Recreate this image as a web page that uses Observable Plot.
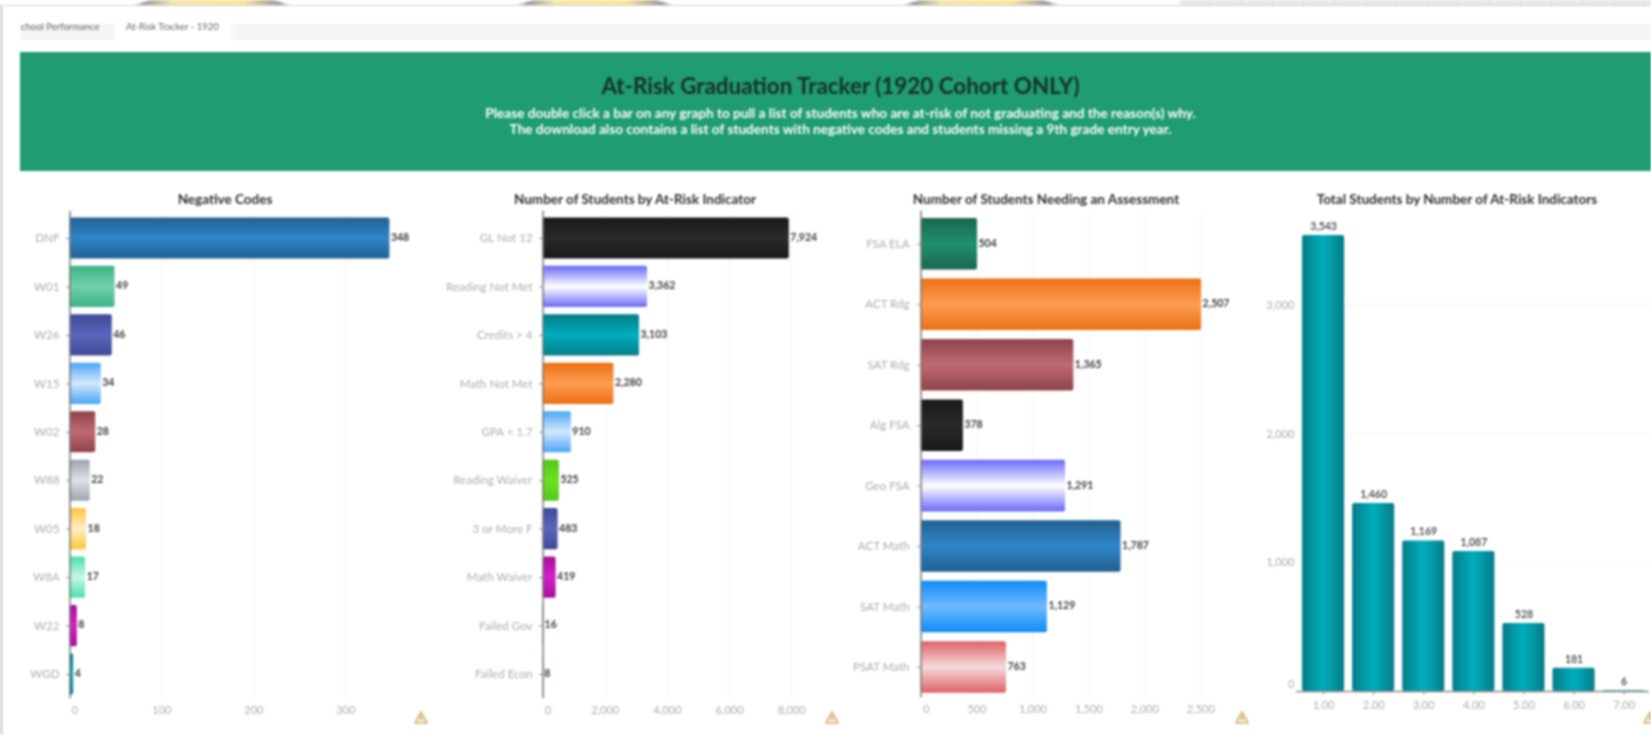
<!DOCTYPE html>
<html><head><meta charset="utf-8">
<script src="https://cdn.jsdelivr.net/npm/d3@7"></script>
<script src="https://cdn.jsdelivr.net/npm/@observablehq/plot@0.6"></script>
<style>
html,body{margin:0;padding:0;background:#fff;overflow:hidden;width:1651px;height:735px}
#page{position:relative;width:1651px;height:735px;overflow:hidden;filter:blur(0.95px);font-family:Lato,"Open Sans",sans-serif}
#page>*{position:absolute}
.deco{top:0;height:5px;width:160px;background:linear-gradient(90deg,#fff 0,#9a9aa0 8%,#f5e6a8 25%,#f9e49a 70%,#9a9aa0 92%,#fff 100%);clip-path:polygon(0 100%,12% 0,88% 0,100% 100%)}
#sheet{top:0;left:1180px;width:471px;height:5px;background:repeating-linear-gradient(90deg,#e9e9e9 0 30px,#d6d6d6 30px 31px)}
#edge{left:0;top:5px;width:1651px;height:1px;background:#d4d4d4}
#side{left:0;top:5px;width:3px;height:730px;background:linear-gradient(90deg,#c4c4c4,#eee)}
#tabbar{left:232px;top:24px;width:1419px;height:16px;background:#f4f5f7}
#tab1{left:20px;top:24px;width:95px;height:16px;background:#f4f5f7;overflow:hidden}
.tabtext{font-size:9.5px;color:#666;white-space:nowrap;top:21px;height:11px;line-height:11px}
#banner{left:20px;top:52px;width:1631px;height:119px;background:#1f9c70;text-align:center;color:#fff}
#banner div{position:absolute;left:10px;right:0}
#bt{top:19px;font-size:22.4px;font-weight:700;color:#17302a;line-height:30px}
#bs1{top:54px;font-size:13.6px;font-weight:700;line-height:15px}
#bs2{top:70px;font-size:13.6px;font-weight:700;line-height:15px}
.ptitle{top:191px;width:400px;text-align:center;font-size:13.5px;font-weight:700;color:#2e2e2e;line-height:16px}
.warn{top:710px}
svg{overflow:visible}
</style></head><body>
<div id="page">
<div class="deco" style="left:132px"></div><div class="deco" style="left:515px"></div><div class="deco" style="left:901px"></div>
<div id="sheet"></div><div id="edge"></div><div id="side"></div>
<div id="tabbar"></div><div id="tab1"></div>
<div class="tabtext" style="left:21px;width:90px;overflow:hidden">chool Performance</div>
<div class="tabtext" style="left:126px">At-Risk Tracker - 1920</div>
<div id="banner">
<div id="bt">At-Risk Graduation Tracker (1920 Cohort ONLY)</div>
<div id="bs1">Please double click a bar on any graph to pull a list of students who are at-risk of not graduating and the reason(s) why.</div>
<div id="bs2">The download also contains a list of students with negative codes and students missing a 9th grade entry year.</div>
</div>
<div class="ptitle" style="left:25px">Negative Codes</div>
<div class="ptitle" style="left:435px">Number of Students by At-Risk Indicator</div>
<div class="ptitle" style="left:846px">Number of Students Needing an Assessment</div>
<div class="ptitle" style="left:1257px">Total Students by Number of At-Risk Indicators</div>
</div>
<script>
// Data
const negativeCodes = ["DNF","W01","W26","W15","W02","W88","W05","W8A","W22","WGD"];
const negativeCounts = [348,49,46,34,28,22,18,17,8,4];
const indicatorNames = ["GL Not 12","Reading Not Met","Credits > 4","Math Not Met","GPA < 1.7","Reading Waiver","3 or More F","Math Waiver","Failed Gov","Failed Econ"];
const indicatorCounts = [7924,3362,3103,2280,910,525,483,419,16,8];
const assessmentNames = ["FSA ELA","ACT Rdg","SAT Rdg","Alg FSA","Geo FSA","ACT Math","SAT Math","PSAT Math"];
const assessmentCounts = [504,2507,1365,378,1291,1787,1129,763];
const indicatorTotals = ["1.00","2.00","3.00","4.00","5.00","6.00","7.00"];
const totalStudents = [3543,1460,1169,1087,528,181,6];
const negativeTicks = [0,100,200,300];
const indicatorTicks = [0,2000,4000,6000,8000];
const assessmentTicks = [0,500,1000,1500,2000,2500];
const totalTicks = [0,1000,2000,3000];
// Colours: [edge, centre]
const navy=["#22608f","#2f86cb"],green=["#3cb486","#71d0a8"],indigo=["#414a96","#5a66bd"],sky=["#4aa5f7","#d4e9fd"],
 wine=["#8e434b","#c06a72"],slate=["#9da4ae","#dfe2e6"],amber=["#fcc63c","#ffefc6"],mint=["#4ae0ae","#c9f7e5"],
 purple=["#a5119a","#d21fc8"],teal=["#067c88","#00aebd"],black=["#191919","#2a2a2a"],violet=["#6a6af8","#ffffff"],
 orange=["#ec7012","#fd9e55"],lime=["#52c81a","#6fe020"],forest=["#1b6650","#1f9070"],azure=["#0d8cf5","#70baff"],rose=["#dd6266","#f5dadc"];
const negativeColors=[navy,green,indigo,sky,wine,slate,amber,mint,purple,teal];
const indicatorColors=[black,violet,teal,orange,sky,lime,indigo,purple,teal,teal];
const assessmentColors=[forest,orange,wine,black,violet,navy,azure,rose];
const totalColors=indicatorTotals.map(()=>teal);

const fmt=d3.format(",");
const AXIS="#adadad", LABEL="#3c3c3c", GRID="#f4f4f4", FONT="Lato,'Open Sans',sans-serif";
const page=document.getElementById("page");

function gradients(prefix,colors,horizontal){
  return ()=>{
    const defs=d3.create("svg:defs");
    colors.forEach((c,i)=>{
      const g=defs.append("linearGradient").attr("id",prefix+i).attr("x1",0).attr("y1",0)
        .attr("x2",horizontal?1:0).attr("y2",horizontal?0:1);
      [[0,c[0]],[0.5,c[1]],[1,c[0]]].forEach(([o,col])=>g.append("stop").attr("offset",o).attr("stop-color",col));
    });
    return defs.node();
  };
}
function place(plot,left,top){plot.style.left=left+"px";plot.style.top=top+"px";plot.style.position="absolute";plot.style.background="transparent";page.appendChild(plot);}

function hbar({id,names,values,colors,ticks,max,left,width,marginLeft,marginRight,top,height,marginTop,marginBottom,inner,pad}){
  const rows=names.map((n,i)=>({n,v:values[i],i}));
  const plot=Plot.plot({
    width,height,marginLeft,marginRight,marginTop,marginBottom,
    style:{fontFamily:FONT,fontSize:"11px",background:"transparent"},
    x:{domain:[0,max],axis:null},
    y:{domain:names,paddingInner:inner,paddingOuter:inner/2,round:false,axis:null},
    marks:[
      gradients(id,colors,false),
      Plot.gridX(ticks.slice(1),{stroke:GRID,strokeOpacity:1}),
      Plot.axisY({anchor:"left",tickSize:3.5,tickPadding:pad,stroke:"#888",fill:AXIS,fontSize:11.6,label:null}),
      Plot.barX(rows,{x:"v",y:"n",fill:{value:d=>`url(#${id}${d.i})`,scale:null},rx:2}),
      Plot.ruleX([0],{stroke:"#777",strokeWidth:1.5,insetTop:-3}),
      Plot.text(rows,{x:"v",y:"n",text:d=>fmt(d.v),textAnchor:"start",dx:1,dy:-1,fill:LABEL,fontSize:10.5,fontWeight:700}),
      Plot.text(ticks.slice(0,1),{x:d=>d,frameAnchor:"bottom",dy:15,dx:5,text:d=>fmt(d),fill:AXIS,fontSize:11}),
      Plot.text(ticks.slice(1),{x:d=>d,frameAnchor:"bottom",dy:15,text:d=>fmt(d),fill:AXIS,fontSize:11})
    ]
  });
  place(plot,left,top);
}

hbar({id:"neg",names:negativeCodes,values:negativeCounts,colors:negativeColors,ticks:negativeTicks,max:359,pad:7,
  left:0,width:420,marginLeft:69.5,marginRight:20.5,top:205,height:515,marginTop:8.8,marginBottom:21.8,inner:0.15});
hbar({id:"ind",names:indicatorNames,values:indicatorCounts,colors:indicatorColors,ticks:indicatorTicks,max:8500,pad:7,
  left:425,width:400,marginLeft:117.6,marginRight:18.3,top:205,height:515,marginTop:8.8,marginBottom:21.8,inner:0.15});
hbar({id:"asm",names:assessmentNames,values:assessmentCounts,colors:assessmentColors,ticks:assessmentTicks,max:2700,pad:8,
  left:830,width:410,marginLeft:90.6,marginRight:17.3,top:205,height:515,marginTop:8.6,marginBottom:22.8,inner:0.147});

// Column chart
(function(){
  const rows=indicatorTotals.map((n,i)=>({n,v:totalStudents[i],i}));
  const plot=Plot.plot({
    width:391,height:515,marginLeft:40,marginRight:0.3,marginTop:5,marginBottom:29,
    style:{fontFamily:FONT,fontSize:"11px",background:"transparent"},
    x:{domain:indicatorTotals,paddingInner:0.16,paddingOuter:0.08,round:false,axis:null},
    y:{domain:[0,3737],axis:null},
    marks:[
      gradients("tot",totalColors,true),
      Plot.gridY(totalTicks.slice(1),{stroke:GRID,strokeOpacity:1}),
      Plot.barY(rows,{x:"n",y:"v",fill:{value:d=>`url(#tot${d.i})`,scale:null},rx:2}),
      Plot.ruleY([0],{stroke:"#8a8a8a",strokeWidth:1.5,insetLeft:-2}),
      Plot.axisX({anchor:"bottom",tickSize:3.5,tickPadding:6,stroke:"#888",fill:AXIS,fontSize:11,label:null}),
      Plot.text(rows,{x:"n",y:"v",text:d=>fmt(d.v),dy:-9,fill:LABEL,fontSize:10.5,fontWeight:600}),
      Plot.text(totalTicks.slice(0,1),{y:d=>d,frameAnchor:"left",dx:-4,dy:-7,textAnchor:"end",text:d=>fmt(d),fill:AXIS,fontSize:11}),
      Plot.text(totalTicks.slice(1),{y:d=>d,frameAnchor:"left",dx:-4,textAnchor:"end",text:d=>fmt(d),fill:AXIS,fontSize:11})
    ]
  });
  place(plot,1258,205);
})();

// warning icons
[421,832,1242,1650].forEach(cx=>{
  const s=d3.create("svg").attr("class","warn").attr("width",16).attr("height",15).style("left",(cx-8)+"px").style("position","absolute");
  s.append("path").attr("d","M8 2 L14 13 L2 13 Z").attr("fill","#fbf3df").attr("stroke","#d3b274").attr("stroke-width",1.6).attr("stroke-linejoin","round");
  s.append("path").attr("d","M8 6 V10").attr("stroke","#b98a3a").attr("stroke-width",1.3);
  page.appendChild(s.node());
});
</script>
</body></html>
